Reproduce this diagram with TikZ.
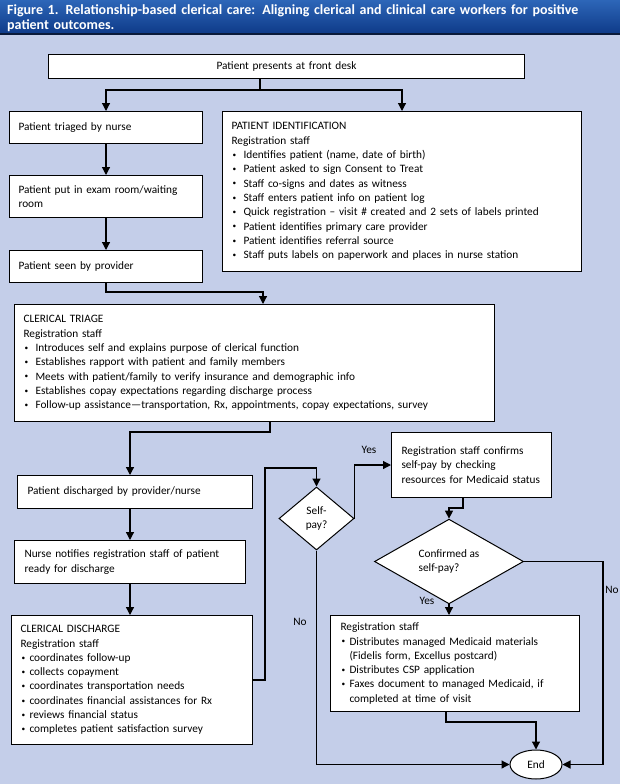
\documentclass[tikz,border=0pt]{standalone}
\usepackage{fontspec}
\setmainfont{Carlito}
\usetikzlibrary{shapes.geometric,arrows.meta,calc}
\definecolor{bg}{HTML}{C4CEE9}
\definecolor{hdtop}{HTML}{2D66B8}
\definecolor{hdbot}{HTML}{0E3A88}
\definecolor{hdline}{HTML}{0A1A3A}
\newcommand{\smbul}{\raisebox{1.2pt}{\scalebox{0.65}{\textbullet}}}
\newcommand{\bitem}[2][12pt]{\par\hangindent=#1\hangafter=1\noindent\makebox[#1][l]{\hspace{1pt}\smbul}#2}
\tikzset{
  box/.style={draw, fill=white, line width=1pt, anchor=north west, inner xsep=9pt, inner ysep=3pt,
    align=left, font=\fontsize{11.3}{14.3}\selectfont},
  dia/.style={diamond, draw, fill=white, line width=1pt, inner sep=0pt, align=center,
    font=\fontsize{11.3}{14.3}\selectfont},
  arr/.style={line width=1.2pt, -{Triangle[length=8pt,width=8pt]}},
  lab/.style={font=\fontsize{11.3}{13}\selectfont}
}
\begin{document}
\begin{tikzpicture}[x=1pt,y=-1pt]
\useasboundingbox (0,0) rectangle (620,784);
\fill[bg] (0,0) rectangle (620,784);
\shade[top color=hdtop, bottom color=hdbot] (0,0) rectangle (620,34);
\draw[hdline, line width=1.6pt] (0,34) -- (620,34);
\node[anchor=north west, text=white, font=\fontsize{14}{15}\selectfont\bfseries, text width=612pt, align=left, inner sep=0pt] (title) at (7,4)
  {Figure 1. Relationship-based clerical care: Aligning clerical and clinical care workers for positive\\patient outcomes.};

% boxes
\node[box, align=center, text width=458pt, minimum height=24pt] (top) at (48,54) {Patient presents at front desk};
\node[box, text width=175pt, minimum height=32pt] (tri) at (9,111) {Patient triaged by nurse};
\node[box, text width=175pt, minimum height=42pt] (exam) at (9,175) {Patient put in exam room/waiting\\room};
\node[box, text width=175pt, minimum height=32pt] (seen) at (9,250) {Patient seen by provider};
\node[box, text width=341pt, minimum height=160pt] (pid) at (222,111) {PATIENT IDENTIFICATION\par Registration staff
  \bitem{Identifies patient (name, date of birth)}
  \bitem{Patient asked to sign Consent to Treat}
  \bitem{Staff co-signs and dates as witness}
  \bitem{Staff enters patient info on patient log}
  \bitem{Quick registration -- visit \# created and 2 sets of labels printed}
  \bitem{Patient identifies primary care provider}
  \bitem{Patient identifies referral source}
  \bitem{Staff puts labels on paperwork and places in nurse station}\par};
\node[box, text width=462pt, minimum height=117pt] (ct) at (14,304) {CLERICAL TRIAGE\par Registration staff
  \bitem{Introduces self and explains purpose of clerical function}
  \bitem{Establishes rapport with patient and family members}
  \bitem{Meets with patient/family to verify insurance and demographic info}
  \bitem{Establishes copay expectations regarding discharge process}
  \bitem{Follow-up assistance---transportation, Rx, appointments, copay expectations, survey}\par\vspace{7pt}};
\node[box, inner xsep=10pt, text width=215pt, minimum height=33pt] (dis) at (17,475) {Patient discharged by provider/nurse};
\node[box, inner xsep=10pt, text width=211pt, minimum height=43pt] (nur) at (14,540) {Nurse notifies registration staff of patient\\ready for discharge};
\node[box, text width=223pt, minimum height=129pt] (cd) at (11,615) {CLERICAL DISCHARGE\par Registration staff
  \bitem[9pt]{coordinates follow-up}
  \bitem[9pt]{collects copayment}
  \bitem[9pt]{coordinates transportation needs}
  \bitem[9pt]{coordinates financial assistances for Rx}
  \bitem[9pt]{reviews financial status}
  \bitem[9pt]{completes patient satisfaction survey}\par};
\node[box, inner xsep=10pt, text width=140pt, minimum height=65pt] (conf) at (391,432) {Registration staff confirms\\self-pay by checking\\resources for Medicaid status};
\node[box, inner xsep=10pt, text width=229pt, minimum height=96pt] (rs) at (330,615) {Registration staff
  \bitem[9pt]{Distributes managed Medicaid materials\newline(Fidelis form, Excellus postcard)}
  \bitem[9pt]{Distributes CSP application}
  \bitem[9pt]{Faxes document to managed Medicaid, if\newline completed at time of visit}\par};

% decisions
\node[dia, minimum width=75pt, minimum height=63pt] (sp) at (316.5,518.5) {Self-\\pay?};
\node[dia, align=left, minimum width=149pt, minimum height=63pt] (cdia) at (449,561.5) {Confirmed as\\self-pay?};
\node[ellipse, draw, fill=white, line width=1pt, inner sep=0pt, minimum width=52pt, minimum height=29pt,
  font=\fontsize{11.3}{13}\selectfont] (endn) at (536,764.5) {End};

% junction coordinates
\coordinate (j1) at (260,90);
\coordinate (j2) at (263,292);
\coordinate (j3) at (270,432);
\coordinate (j4) at (130,432);
\coordinate (j5) at (265,468);
\coordinate (j6) at (463,508);
\coordinate (j7) at (603,764.5);
\coordinate (j8) at (446,722);

% connectors
\draw[arr] (top.south -| j1) -- (j1) -| (tri.north);
\draw[arr] (j1) -| (pid.north);
\draw[arr] (tri) -- (exam);
\draw[arr] (exam) -- (seen);
\draw[arr] (seen.south) |- (j2) -- (j2 |- ct.north);
\draw[arr] (ct.south -| j3) -- (j3) -- (j4) -- (j4 |- dis.north);
\draw[arr] (dis.south -| j4) -- (nur.north -| j4);
\draw[arr] (nur.south -| j4) -- (cd.north -| j4);
\draw[arr] (cd.east) -| (j5) -| (sp.north);
\draw[arr] (sp.east) |- (conf.west);
\draw[arr] (conf.south -| j6) -- (j6) -| (cdia.north);
\draw[arr] (cdia.south) -- (cdia.south |- rs.north);
\draw[arr] (cdia.east) -| (j7) -- (endn.east);
\draw[arr] (rs.south -| j8) -- (j8) -| (endn.north);
\draw[arr] (sp.south) |- (endn.west);

% labels
\node[lab] (ly1) at (369,450) {Yes};
\node[lab] (ly2) at (427,601) {Yes};
\node[lab] (ln1) at (300,622) {No};
\node[lab] (ln2) at (612,590) {No};
\end{tikzpicture}
\end{document}
